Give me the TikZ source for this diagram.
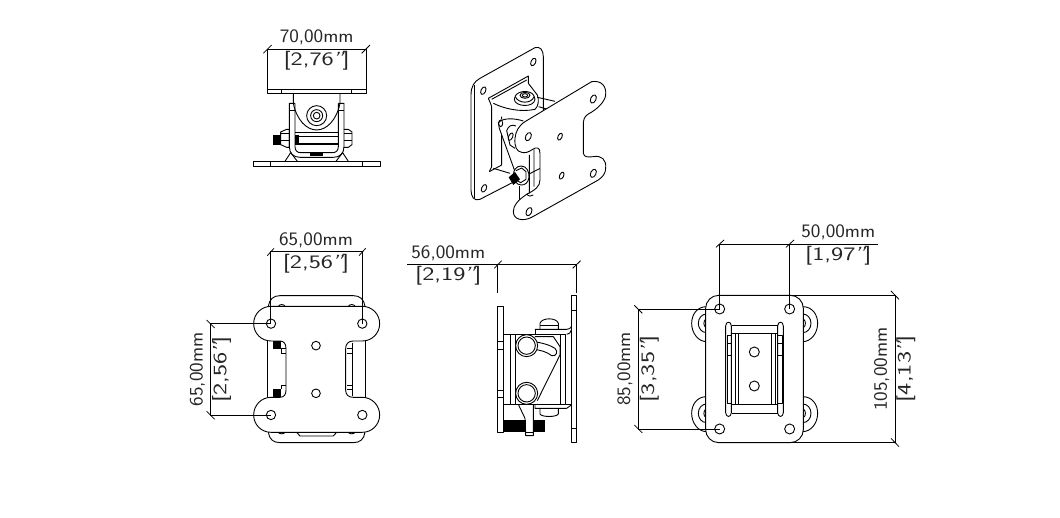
\documentclass[tikz,border=0pt]{standalone}
\usepackage{graphicx}
\newcommand{\dimtxt}[1]{\scalebox{1.07}[1]{#1}}
\newcommand{\brk}[1]{\scalebox{1.36}[1]{[#1\kern-1.5pt\textsl{"}\kern-1.5pt]}}
\tikzset{
	part/.style={black,line width=0.9pt,line join=round},
	thin part/.style={black,line width=0.6pt},
	dimline/.style={black,line width=0.8pt},
	hole/.style={black,line width=0.9pt,fill=white},
	dimlabel/.style={font=\fontsize{19}{19}\selectfont\sffamily,inner sep=0pt,text=black!85},
}
\begin{document}
\begin{tikzpicture}[x=1pt,y=-1pt]
	\useasboundingbox (0,0) rectangle (1060,518);

	% top view
	\begin{scope}[shift={(240,30)},scale=0.3333]
		\draw[dimline] (70,70) -- (95,45);
		\draw[dimline] (365,70) -- (390,45);
		\draw[part] (82,57) -- (378,57) -- (378,190) -- (82,190) -- cycle;
		\draw[part] (82,177) -- (378,177);
		\draw[part] (125,177) -- (125,190) (335,177) -- (335,190);
		\node[dimlabel] (widthA) at (230,22) {\dimtxt{70,00mm}};
		\node[dimlabel] (widthB) at (230,92) {\brk{2,76}};
		% bracket and pivot
		\draw[part] (160,190) -- (160,220) .. controls (170,270) and (200,300) .. (230,300) .. controls (260,300) and (290,270) .. (300,220) -- (300,190);
		\draw[part] (230,257) circle (30);
		\draw[part] (230,257) circle (18);
		\draw[part] (230,257) circle (10);
		% arms
		\draw[part] (165,220) -- (148,220) -- (148,350) .. controls (148,370) and (160,382) .. (180,382) -- (280,382) .. controls (300,382) and (312,370) .. (312,350) -- (312,220) -- (295,220);
		\draw[part] (165,220) -- (165,350) .. controls (165,362) and (172,368) .. (182,368) -- (278,368) .. controls (288,368) and (295,362) .. (295,350) -- (295,220);
		\draw[part] (148,240) -- (165,240) (295,240) -- (312,240);
		\draw[part] (165,306) -- (295,306) (165,318) -- (295,318);
		\fill[black] (165,340) rectangle (295,345);
		\fill[black] (165,314) rectangle (177,338);
		\fill[black] (210,365) rectangle (250,379);
		% bolt
		\fill[black] (100,314) rectangle (122,344);
		\foreach \y in {310,330}{
			\draw[thin part] (122,\y) -- (148,\y);
			\draw[thin part] (312,\y) -- (336,\y);
		}
		\draw[part] (122,306) -- (140,298) -- (148,298) -- (148,352) -- (140,352) -- (122,344) -- cycle;
		\draw[part] (312,298) -- (325,298) -- (336,306) -- (336,344) -- (325,352) -- (312,352);
		% base
		\draw[part] (40,394) rectangle (420,410);
		\draw[part] (92,394) -- (92,410) (367,394) -- (367,410);
		\draw[part] (135,394) -- (152,368) (172,394) -- (152,368);
		\draw[part] (325,394) -- (308,368) (288,394) -- (308,368);
	\end{scope}

	% isometric view
	\begin{scope}[shift={(460,40)},scale=0.3333]
		% wall plate
		\draw[part,fill=white] (225,23) .. controls (240,18) and (250,30) .. (250,50) -- (250,180) -- (250,380) -- (60,478) .. controls (42,485) and (33,470) .. (33,450) -- (33,165) .. controls (33,140) and (42,125) .. (60,115) -- cycle;
		\draw[thin part] (43,473) -- (43,135);
		\draw[hole] (220,66) ellipse [x radius=7,y radius=12,rotate=-25];
		\draw[hole] (70,152) ellipse [x radius=7,y radius=12,rotate=-25];
		\draw[hole] (72,445) ellipse [x radius=7,y radius=12,rotate=-25];
		% opening
		\draw[part] (85,175) -- (205,108) -- (205,130) (85,175) .. controls (88,185) and (93,190) .. (95,200) -- (95,380) -- (88,395);
		\draw[part] (88,395) -- (125,375) -- (125,230);
		\draw[part] (100,190) .. controls (130,205) and (180,218) .. (225,208) .. controls (235,200) and (238,180) .. (232,165) -- (205,130);
		\draw[part] (95,178) -- (200,120);
		\draw[part] (100,385) -- (150,400);
		% back body
		\draw[part] (232,172) -- (285,184) (236,200) -- (262,208);
		% head bolt
		\draw[part,fill=white] (163,178) .. controls (163,200) and (222,205) .. (225,178) -- (222,168) .. controls (215,150) and (175,150) .. (166,168) -- cycle;
		\draw[part] (166,170) .. controls (175,192) and (215,192) .. (222,170);
		\draw[part] (195,166) ellipse [x radius=15,y radius=9];
		\draw[part] (195,166) ellipse [x radius=8,y radius=5];
		% bracket with slot
		\fill[white] (115,245) -- (130,235) -- (190,243) -- (180,390) -- (165,395) -- (118,265) -- cycle;
		\draw[part] (190,243) .. controls (165,235) and (130,232) .. (115,248) -- (118,265) -- (165,395);
		\draw[part] (122,250) ellipse [x radius=6,y radius=10];
		\draw[part] (140,272) .. controls (145,258) and (155,252) .. (168,258) (140,272) -- (150,315) -- (165,325);
		\draw[part] (152,290) ellipse [x radius=6,y radius=12,rotate=-25];
		\draw[part] (178,437) -- (178,500);
		% front plate
		\draw[part,fill=white] (395,125) .. controls (425,120) and (440,140) .. (437,165) .. controls (435,185) and (412,208) .. (385,222) .. controls (372,230) and (370,240) .. (370,255) -- (370,340) .. controls (372,352) and (385,352) .. (400,350) .. controls (425,345) and (440,360) .. (437,385) .. controls (437,398) and (430,410) .. (415,420) -- (215,532) .. controls (190,545) and (160,540) .. (160,515) .. controls (160,495) and (175,480) .. (200,463) .. controls (225,450) and (240,440) .. (240,420) -- (240,340) .. controls (240,322) and (230,320) .. (218,328) .. controls (205,337) and (195,340) .. (185,337) .. controls (170,335) and (163,320) .. (165,295) .. controls (167,275) and (175,258) .. (195,245) -- cycle;
		\draw[part] (222,328) -- (222,440) (208,345) -- (208,460) (200,462) .. controls (205,470) and (215,470) .. (220,465);
		\foreach \x/\y in {400/177,205/290,400/400,207/515}{
			\draw[hole] (\x,\y) ellipse [x radius=8,y radius=13,rotate=-25];
		}
		\foreach \x/\y in {300/290,305/407}{
			\draw[hole] (\x,\y) ellipse [x radius=6,y radius=11,rotate=-25];
		}
		% nut
		\draw[part,fill=white] (183,378) .. controls (200,378) and (208,395) .. (207,412) .. controls (205,428) and (195,436) .. (183,435) .. controls (168,434) and (160,420) .. (160,405) .. controls (160,390) and (170,378) .. (183,378) -- cycle;
		\draw[part] (168,392) -- (185,384) -- (198,395) -- (198,418) -- (182,428) -- (168,420);
		\fill[black] (146,412) -- (165,396) -- (180,418) -- (160,435) -- cycle;
	\end{scope}

	% front view
	\begin{scope}[shift={(180,230)},scale=0.3333]
		\draw[part] (265,229) .. controls (268,208) and (280,197) .. (300,197) -- (520,197) .. controls (540,197) and (552,208) .. (555,229);
		\draw[part] (265,607) .. controls (268,628) and (280,638) .. (300,638) -- (520,638) .. controls (540,638) and (552,628) .. (555,607);
		\draw[part] (295,229) .. controls (298,222) and (312,222) .. (315,229);
		\draw[part] (505,229) .. controls (508,222) and (522,222) .. (525,229);
		\draw[part] (295,607) .. controls (298,613) and (312,613) .. (315,607);
		\draw[part] (505,607) .. controls (508,613) and (522,613) .. (525,607);
		\draw[part] (350,607) -- (360,618) -- (460,618) -- (470,607);
		\draw[part] (263,333) -- (263,502) (557,333) -- (557,502);
		\fill[black] (280,333) rectangle (303,356);
		\fill[black] (280,477) rectangle (303,502);
		\draw[part] (303,356) -- (318,356) (303,370) -- (318,370) (303,465) -- (318,465) (303,356) -- (303,370) (303,465) -- (303,477);
		\draw[part] (517,338) -- (517,498) (517,356) -- (502,356) (502,370) -- (517,370) (502,465) -- (517,465) (517,477) -- (502,477);
		% mounting plate
		\draw[part] (273,229) -- (547,229) .. controls (576,229) and (599,252) .. (599,281) .. controls (599,310) and (576,333) .. (547,333) -- (520,333) .. controls (505,333) and (497,342) .. (497,356) -- (497,480) .. controls (497,494) and (505,502) .. (520,502) -- (547,502) .. controls (576,502) and (599,526) .. (599,555) .. controls (599,584) and (576,607) .. (547,607) -- (273,607) .. controls (244,607) and (221,584) .. (221,555) .. controls (221,526) and (244,502) .. (273,502) -- (300,502) .. controls (312,502) and (318,494) .. (318,480) -- (318,356) .. controls (318,342) and (312,333) .. (300,333) -- (273,333) .. controls (244,333) and (221,310) .. (221,281) .. controls (221,252) and (244,229) .. (273,229) -- cycle;
		\foreach \x/\y in {273/281,547/281,273/555,547/555}{
			\draw[hole] (\x,\y) circle (14);
		}
		\foreach \y in {347,490}{
			\draw[hole] (408,\y) circle (13);
		}
		% dimensions
		\draw[dimline] (272,281) -- (272,65) -- (547,65) -- (547,281);
		\draw[dimline] (262,77) -- (282,55) (537,77) -- (557,55);
		\draw[dimline] (273,281) -- (92,281) -- (92,555) -- (273,555);
		\draw[dimline] (80,270) -- (104,294) (80,544) -- (104,568);
		\node[dimlabel] (topA) at (408,32) {\dimtxt{65,00mm}};
		\node[dimlabel] (topB) at (408,100) {\brk{2,56}};
		\node[dimlabel,rotate=90] (sideA) at (52,418) {\dimtxt{65,00mm}};
		\node[dimlabel,rotate=90] (sideB) at (125,418) {\brk{2,56}};
	\end{scope}

	% side view
	\begin{scope}[shift={(400,240)},scale=0.3333]
		\draw[dimline] (22,72) -- (528,72);
		\draw[dimline] (293,72) -- (293,160) (528,72) -- (528,160);
		\draw[dimline] (283,85) -- (305,62) (518,85) -- (542,62);
		\node[dimlabel] (depthA) at (145,40) {\dimtxt{56,00mm}};
		\node[dimlabel] (depthB) at (145,108) {\brk{2,19}};
		% plates
		\draw[part] (293,198) rectangle (311,578);
		\draw[part] (293,305) -- (311,305) (293,327) -- (311,327) (293,450) -- (311,450) (293,472) -- (311,472);
		\draw[part] (514,165) rectangle (528,607);
		\draw[part] (514,210) -- (528,210) (514,565) -- (528,565);
		% body
		\draw[part] (311,283) -- (497,283) -- (497,493) -- (311,493);
		\draw[part] (330,283) -- (330,493) (345,283) -- (345,493) (480,283) -- (480,493);
		\draw[part] (405,268) -- (500,268) .. controls (508,268) and (512,265) .. (514,260);
		\draw[part] (405,268) -- (405,283);
		\draw[part] (500,283) .. controls (508,283) and (512,278) .. (514,270);
		\draw[part] (420,268) -- (420,250) .. controls (425,232) and (470,232) .. (475,250) -- (475,268);
		\draw[part] (420,255) -- (475,255);
		\draw[part] (405,493) -- (405,505) -- (500,505) -- (514,495);
		\draw[part] (497,493) -- (514,493);
		\draw[part] (420,505) -- (420,522) .. controls (425,532) and (470,532) .. (475,522) -- (475,505);
		% slot and bracket
		\draw[part] (405,290) -- (460,290) -- (480,320) -- (480,345) -- (412,482);
		\draw[part] (400,305) .. controls (425,308) and (450,315) .. (465,325) .. controls (475,335) and (470,350) .. (455,347) .. controls (440,335) and (420,330) .. (400,328);
		\foreach \y in {317,460}{
			\draw[hole] (380,\y) circle (33);
			\draw[part] (380,\y) circle (26);
		}
		% bolt
		\draw[part] (355,493) -- (375,535) -- (377,578) -- (377,587) -- (400,587) -- (400,578) -- (400,493);
		\fill[black] (311,541) rectangle (377,576);
		\fill[black] (400,541) rectangle (436,576);
		\draw[part] (377,578) -- (400,578);
	\end{scope}

	% back view
	\begin{scope}[shift={(610,220)},scale=0.3333]
		\foreach \y in {310,580}{
			\draw[part] (290,\y-50) .. controls (260,\y-50) and (245,\y-25) .. (245,\y) .. controls (245,\y+30) and (265,\y+55) .. (290,\y+55);
			\draw[part] (290,\y-28) .. controls (275,\y-28) and (265,\y-15) .. (265,\y) .. controls (265,\y+15) and (275,\y+28) .. (290,\y+28);
			\draw[part] (287,\y-12) .. controls (280,\y-8) and (280,\y+8) .. (287,\y+12);
			\draw[part] (578,\y-50) .. controls (608,\y-50) and (623,\y-25) .. (623,\y) .. controls (623,\y+30) and (603,\y+55) .. (578,\y+55);
			\draw[part] (578,\y-28) .. controls (593,\y-28) and (603,\y-15) .. (603,\y) .. controls (603,\y+15) and (593,\y+28) .. (578,\y+28);
			\draw[part] (581,\y-12) .. controls (588,\y-8) and (588,\y+8) .. (581,\y+12);
		}
		\draw[part,fill=white,rounded corners=13pt] (287,226) rectangle (580,668);
		\foreach \x/\y in {329/267,539/267,329/627,539/627}{
			\draw[hole] (\x,\y) circle (15);
		}
		% frame
		\draw[part] (365,317) -- (503,317) (365,341) -- (503,341) (365,553) -- (503,553) (365,580) -- (503,580);
		\foreach \x in {347,503}{
			\draw[part] (\x,318) .. controls (\x,303) and (\x+17,303) .. (\x+17,318) -- (\x+17,578) .. controls (\x+17,593) and (\x,593) .. (\x,578) -- cycle;
		}
		\draw[part] (352,345) rectangle (365,550);
		\draw[part] (503,345) rectangle (516,550);
		\draw[part] (375,341) -- (375,553) (385,341) -- (385,553) (485,341) -- (485,553) (495,341) -- (495,553);
		\draw[part] (352,370) -- (365,370) (352,405) -- (365,405) (503,370) -- (516,370) (503,405) -- (516,405);
		\foreach \y in {396,498}{
			\draw[hole] (433,\y) circle (15);
		}
		% dimensions
		\draw[dimline] (328,267) -- (328,72) -- (805,72);
		\draw[dimline] (538,72) -- (538,267);
		\draw[dimline] (318,82) -- (342,60) (528,82) -- (552,60);
		\node[dimlabel] (gapA) at (685,38) {\dimtxt{50,00mm}};
		\node[dimlabel] (gapB) at (685,108) {\brk{1,97}};
		\draw[dimline] (330,226) -- (855,226) -- (855,668) -- (330,668);
		\draw[dimline] (843,213) -- (867,238) (843,655) -- (867,680);
		\node[dimlabel,rotate=90] (heightA) at (815,447) {\dimtxt{105,00mm}};
		\node[dimlabel,rotate=90] (heightB) at (888,447) {\brk{4,13}};
		\draw[dimline] (329,268) -- (85,268) -- (85,627) -- (329,627);
		\draw[dimline] (73,256) -- (97,280) (73,615) -- (97,639);
		\node[dimlabel,rotate=90] (spanA) at (45,447) {\dimtxt{85,00mm}};
		\node[dimlabel,rotate=90] (spanB) at (118,447) {\brk{3,35}};
	\end{scope}
\end{tikzpicture}
\end{document}
